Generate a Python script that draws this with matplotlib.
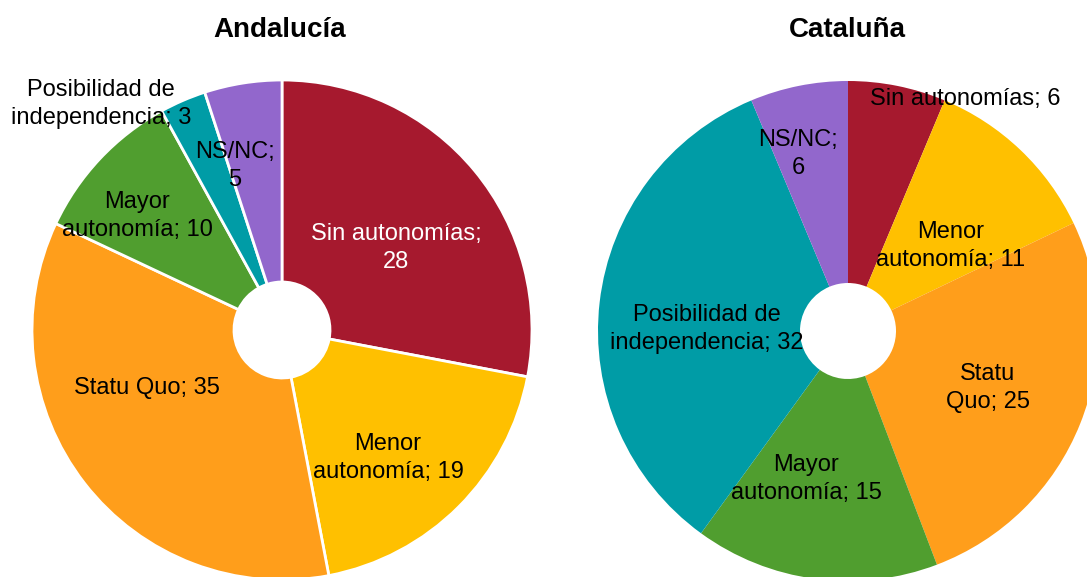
import matplotlib.pyplot as plt

plt.rcParams['font.family'] = ['Liberation Sans', 'DejaVu Sans']

categorias = ['Sin autonomías', 'Menor autonomía', 'Statu Quo',
              'Mayor autonomía', 'Posibilidad de independencia', 'NS/NC']
andalucia = [28, 19, 35, 10, 3, 5]
cataluna = [6, 11, 25, 15, 32, 6]
colores = ['#A6192E', '#FFC000', '#FF9E1B', '#509E2F', '#009CA6', '#9267CC']

# texto de etiqueta (con saltos de linea) para cada grafico
etq_and = ['Sin autonomías;\n28', 'Menor\nautonomía; 19', 'Statu Quo; 35',
           'Mayor\nautonomía; 10', 'Posibilidad de\nindependencia; 3', 'NS/NC;\n5']
etq_cat = ['Sin autonomías; 6', 'Menor\nautonomía; 11', 'Statu\nQuo; 25',
           'Mayor\nautonomía; 15', 'Posibilidad de\nindependencia; 32', 'NS/NC;\n6']
# posiciones de las etiquetas relativas al centro (radio = 1)
pos_and = [(0.456, 0.328), (0.424, -0.512), (-0.54, -0.232),
           (-0.58, 0.456), (-0.724, 0.904), (-0.188, 0.656)]
pos_cat = [(0.468, 0.928), (0.412, 0.34), (0.56, -0.228),
           (-0.168, -0.592), (-0.564, 0.008), (-0.2, 0.708)]

W, H = 1087, 577
fig = plt.figure(figsize=(W / 100, H / 100), dpi=100)


def donut(cx, cy, valores, etiquetas, posiciones, titulo, borde, tx):
    r = 250
    ax = fig.add_axes([(cx - r) / W, (H - cy - r) / H, 2 * r / W, 2 * r / H])
    ax.pie(valores, colors=colores, startangle=90, counterclock=False,
           radius=1, wedgeprops=dict(width=1 - 48 / 250, edgecolor='white',
                                     linewidth=borde))
    ax.set_xlim(-1, 1)
    ax.set_ylim(-1, 1)
    ax.axis('off')
    for i, (txt, (x, y)) in enumerate(zip(etiquetas, posiciones)):
        col = 'white' if i == 0 and titulo == 'Andalucía' else 'black'
        ax.text(x, y, txt, ha='center', va='center', fontsize=17,
                color=col, linespacing=1.3)
    fig.text(tx / W, 1 - 30 / H, titulo, ha='center', va='center',
             fontsize=20, fontweight='bold')


donut(282, 330, andalucia, etq_and, pos_and, 'Andalucía', 2, 280)
donut(848, 331, cataluna, etq_cat, pos_cat, 'Cataluña', 0, 847)

fig.savefig('out.png', dpi=100)
